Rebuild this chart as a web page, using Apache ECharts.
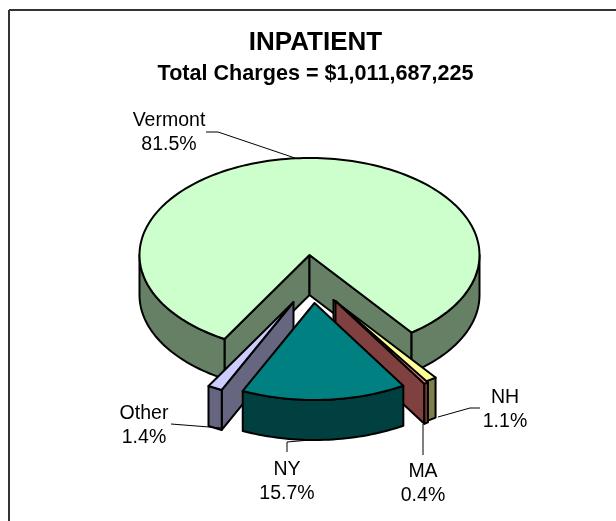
<!DOCTYPE html>
<html>
<head>
<meta charset="utf-8">
<style>html,body{margin:0;padding:0;background:#fff}#c{width:616px;height:521px}</style>
<script src="https://cdn.jsdelivr.net/npm/echarts@6/dist/echarts.min.js"></script>
</head>
<body>
<div id="c"></div>
<script>
const titleText = 'INPATIENT';
const subtitleText = 'Total Charges = $1,011,687,225';
const categories = ['Vermont', 'NH', 'MA', 'NY', 'Other'];
const shares = [81.5, 1.1, 0.4, 15.7, 1.4];
const topColors = ['#CCFFCC', '#FFFF99', '#FF8080', '#008080', '#CCCCFF'];
const sideColors = ['#668066', '#80804D', '#804040', '#004040', '#666680'];

// Projection of the tilted pie and per-slice explosion
const cx = 309.5, cy = 255, rx = 170, ry = 97, depth = 40, startAngle = 210;
const explode = { Vermont: [0, 0], NH: [24, 45], MA: [26, 46], NY: [5, 48], Other: [-16, 47] };
const layerOrder = { Vermont: 0, NH: 10, MA: 20, Other: 30, NY: 40 };
const labelPlace = {
  Vermont: { x: 169, y: 121, leader: [[206, 132], [218, 132], [295, 158]] },
  NH: { x: 505, y: 398, leader: [[480, 408], [470, 408], [438, 417]] },
  MA: { x: 423, y: 472, leader: [[423, 455], [423, 424]] },
  NY: { x: 287, y: 470, leader: [[287, 452], [287, 442], [310, 440]] },
  Other: { x: 144, y: 414, leader: [[171, 424], [222, 428]] }
};
const total = shares.reduce((a, b) => a + b, 0);
const rad = d => d * Math.PI / 180;

function rimPoint(c, a, dz) {
  return [c[0] + rx * Math.sin(rad(a)), c[1] - ry * Math.cos(rad(a)) + dz];
}
function arcPoints(c, a, b, dz) {
  const pts = [], n = Math.max(2, Math.ceil(Math.abs(b - a) / 1.5));
  for (let i = 0; i <= n; i++) pts.push(rimPoint(c, a + (b - a) * i / n, dz));
  return pts;
}
function poly(points, fill, z2) {
  return {
    type: 'polygon', z2,
    shape: { points },
    style: { fill, stroke: '#000', lineWidth: 2, lineJoin: 'round' }
  };
}
function renderSlice(params, api) {
  const i = params.dataIndex, name = categories[i];
  let a = startAngle;
  for (let k = 0; k < i; k++) a += api.value(1, k) / total * 360;
  const b = a + api.value(1, i) / total * 360;
  const off = explode[name], c = [cx + off[0], cy + off[1]];
  const z = layerOrder[name], children = [];
  const face = ang => {
    const p = rimPoint(c, ang, 0);
    children.push(poly([c, p, [p[0], p[1] + depth], [c[0], c[1] + depth]], sideColors[i], z + 1));
  };
  if (Math.sin(rad(a)) < 0) face(a);
  if (Math.sin(rad(b)) > 0) face(b);
  [[90, 270], [450, 630]].forEach(r => {
    const s = Math.max(a, r[0]), e = Math.min(b, r[1]);
    if (e > s) {
      children.push(poly(arcPoints(c, s, e, 0).concat(arcPoints(c, e, s, depth)), sideColors[i], z + 2));
    }
  });
  children.push(poly([c].concat(arcPoints(c, a, b, 0)), topColors[i], z + 3));
  return { type: 'group', children };
}

const labelGraphics = [];
categories.forEach((name, i) => {
  const p = labelPlace[name];
  labelGraphics.push({
    type: 'text', z: 5, x: p.x, y: p.y - 12,
    style: {
      text: name + '\n' + shares[i].toFixed(1) + '%',
      fontFamily: 'Liberation Sans', fontSize: 19.5, lineHeight: 23.5,
      fill: '#000', align: 'center', verticalAlign: 'top'
    }
  });
  labelGraphics.push({
    type: 'polyline', z: 5,
    shape: { points: p.leader },
    style: { fill: 'none', stroke: '#000', lineWidth: 1 }
  });
});
const frame = [
  { type: 'line', z: 0, shape: { x1: 9, y1: 10, x2: 616, y2: 10 }, style: { stroke: '#333', lineWidth: 2 } },
  { type: 'line', z: 0, shape: { x1: 9, y1: 10, x2: 9, y2: 521 }, style: { stroke: '#333', lineWidth: 2 } }
];

const chart = echarts.init(document.getElementById('c'), null, { renderer: 'canvas' });
chart.setOption({
  animation: false,
  backgroundColor: '#fff',
  title: [
    { text: titleText, left: 315.5, top: 30, textAlign: 'center', padding: 0,
      textStyle: { fontFamily: 'Liberation Sans', fontSize: 26, fontWeight: 'bold', color: '#000' } },
    { text: subtitleText, left: 315.5, top: 63, textAlign: 'center', padding: 0,
      textStyle: { fontFamily: 'Liberation Sans', fontSize: 21.6, fontWeight: 'bold', color: '#000' } }
  ],
  graphic: frame.concat(labelGraphics),
  series: [{
    type: 'custom',
    coordinateSystem: 'none',
    renderItem: renderSlice,
    silent: true,
    data: categories.map((n, i) => [i, shares[i]])
  }]
});
</script>
</body>
</html>
